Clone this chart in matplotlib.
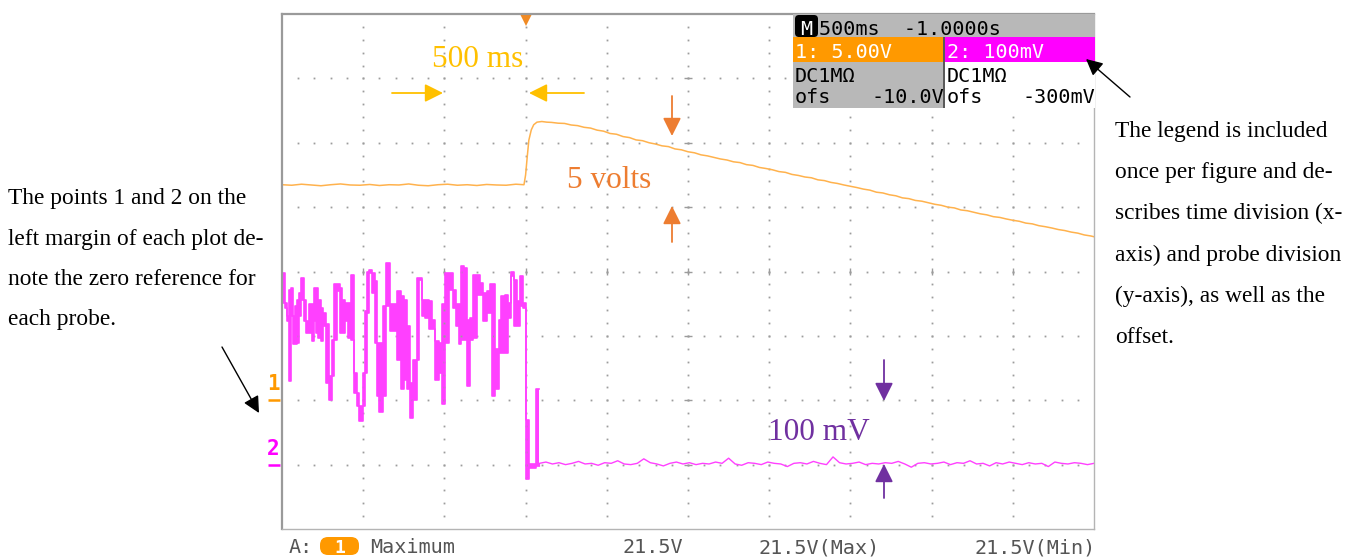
import numpy as np
import matplotlib
matplotlib.use("Agg")
import matplotlib.pyplot as plt
from matplotlib.patches import Rectangle, FancyBboxPatch, FancyArrowPatch
from matplotlib.transforms import IdentityTransform

# scope settings
time_per_div = 0.5          # s / div
ch1_volts_per_div = 5.0     # V / div
ch1_offset = -10.0          # V
ch2_mv_per_div = 100.0      # mV / div
ch2_offset = -300.0         # mV

# channel 1 (orange): flat, step up at the trigger, then slow decay
ch1_flat_t = [0.00, 0.06, 0.12, 0.18, 0.24, 0.30, 0.36, 0.42, 0.48, 0.54, 0.60, 0.66, 0.72,
              0.78, 0.84, 0.90, 0.96, 1.02, 1.08, 1.14, 1.20, 1.26, 1.32, 1.38, 1.44, 1.49]
ch1_flat_v = [16.74, 16.70, 16.78, 16.72, 16.66, 16.74, 16.80, 16.72, 16.70, 16.76, 16.68, 16.74, 16.72,
              16.80, 16.70, 16.66, 16.74, 16.78, 16.70, 16.74, 16.68, 16.76, 16.72, 16.70, 16.78, 16.74]
ch1_rise_t = [1.50, 1.51, 1.52, 1.535, 1.55, 1.57, 1.60, 1.63]
ch1_rise_v = [17.5, 18.9, 20.2, 21.0, 21.4, 21.6, 21.65, 21.6]
ch1_decay_v = [21.58, 21.52, 21.50, 21.38, 21.33, 21.20, 21.14, 20.98, 20.90, 20.72,
               20.66, 20.48, 20.40, 20.22, 20.16, 20.00, 19.90, 19.76, 19.70, 19.52,
               19.45, 19.30, 19.22, 19.06, 18.98, 18.86, 18.74, 18.66, 18.52, 18.46,
               18.30, 18.24, 18.08, 18.00, 17.90, 17.76, 17.70, 17.54, 17.46, 17.34,
               17.28, 17.12, 17.06, 16.92, 16.84, 16.72, 16.62, 16.52, 16.40, 16.32,
               16.16, 16.10, 15.96, 15.88, 15.72, 15.66, 15.52, 15.46, 15.34, 15.22,
               15.14, 15.00, 14.94, 14.78, 14.72, 14.60, 14.48, 14.40, 14.26, 14.20,
               14.08, 13.98, 13.90, 13.76, 13.70, 13.56, 13.48, 13.38, 13.26, 13.18,
               13.06, 12.98, 12.84, 12.76, 12.70]
ch1_decay_t = list(np.linspace(1.66, 4.98, 84)) + [5.0]

# channel 2 (magenta): peak-detect segments (min/max per segment, mV) up to just after trigger
ch2_edges = [0, 0.016, 0.029, 0.041, 0.053, 0.066, 0.078, 0.095, 0.107, 0.119,
             0.136, 0.148, 0.168, 0.183, 0.197, 0.209, 0.224, 0.238, 0.255, 0.271,
             0.292, 0.310, 0.322, 0.341, 0.357, 0.370, 0.390, 0.407, 0.423, 0.444,
             0.460, 0.476, 0.497, 0.513, 0.526, 0.538, 0.554, 0.571, 0.587, 0.600,
             0.624, 0.641, 0.665, 0.686, 0.706, 0.731, 0.751, 0.772, 0.788, 0.809,
             0.829, 0.846, 0.862, 0.879, 0.903, 0.924, 0.944, 0.969, 0.986, 1.006,
             1.027, 1.051, 1.072, 1.088, 1.105, 1.121, 1.137, 1.158, 1.178, 1.199,
             1.220, 1.240, 1.261, 1.281, 1.293, 1.314, 1.335, 1.351, 1.371, 1.392,
             1.413, 1.429, 1.445, 1.466, 1.482, 1.503, 1.523, 1.564, 1.585]
ch2_hi = [298, 251, 231, 272, 275, 231, 246, 256, 267, 290,
          256, 223, 249, 249, 275, 275, 256, 244, 236, 218,
          138, 194, 280, 280, 275, 256, 251, 251, 295, 143,
          112, 91, 143, 238, 300, 303, 298, 285, 189, 189,
          246, 313, 249, 249, 269, 262, 256, 215, 127, 163,
          290, 290, 256, 256, 254, 225, 192, 189, 249, 298,
          298, 272, 249, 249, 308, 305, 225, 228, 295, 295,
          282, 267, 269, 280, 280, 179, 225, 262, 264, 251,
          300, 287, 254, 293, 251, 70, 1, 117]
ch2_lo = [251, 244, 223, 130, 231, 187, 187, 189, 231, 256,
          223, 205, 205, 192, 223, 205, 197, 192, 215, 127,
          101, 138, 194, 269, 205, 205, 223, 197, 194, 112,
          91, 68, 91, 143, 236, 298, 267, 189, 107, 81,
          107, 246, 207, 207, 163, 117, 132, 117, 73, 101,
          163, 287, 231, 228, 210, 210, 132, 143, 94, 189,
          272, 244, 215, 187, 194, 194, 122, 194, 197, 264,
          264, 223, 236, 236, 107, 117, 174, 174, 174, 228,
          293, 215, 215, 246, 244, -23, -5, -2]
# channel 2 after the trigger: quiet baseline
ch2_tail_mv = [2, 4, 1, 3, 0, 2, 5, 1, 2, -1, 3, 2, 6, 1, 0, 2, 9, 3, 1, -2,
               2, 4, 1, 3, 0, 2, 1, 4, 2, 10, 1, -1, 3, 2, 0, 4, 2, 1, -3, 2,
               3, 1, 5, 2, 0, 12, 3, 1, 2, 4, 0, 2, 1, 3, 2, 5, 1, -4, 2, 3,
               1, 2, 4, 0, 3, 2, 6, 1, 2, -2, 3, 1, 4, 2, 0, 3, 1, 2, -3, 4,
               2, 1, 3, 2, 0, 2]
ch2_tail_t = np.linspace(1.585, 5.0, len(ch2_tail_mv))

W, H = 1362, 557
ORANGE_TRACE = '#FFB24D'
MAGENTA = '#FF40FF'
GRID = '#9c9c9c'
SCOPE_TXT = '#555555'
MONO = 'DejaVu Sans Mono'
SERIF = 'Liberation Serif'


def P(x, y):
    return (x / W, 1 - y / H)


fig = plt.figure(figsize=(W / 100, H / 100), dpi=100)
ax = fig.add_axes([282 / W, 1 - 529 / H, (1094 - 282) / W, (529 - 14) / H])
ax.set_xlim(0, 10 * time_per_div)
ax.set_ylim(-4, 4)
ax.set_xticks([])
ax.set_yticks([])
for side in ['left', 'top']:
    ax.spines[side].set_color('#9a9a9a')
    ax.spines[side].set_linewidth(1.6)
for side in ['right', 'bottom']:
    ax.spines[side].set_color('#b4b4b4')
    ax.spines[side].set_linewidth(1.0)

# dotted graticule
xdiv = np.arange(1, 10) * time_per_div
ydiv = np.arange(-3, 4)
gx, gy = np.meshgrid(xdiv, np.arange(-19, 20) * 0.2)
ax.plot(gx.ravel(), gy.ravel(), ls='none', marker='s', ms=1.3, mew=0, color=GRID)
hx, hy = np.meshgrid(np.arange(1, 50) * time_per_div * 0.2, ydiv)
ax.plot(hx.ravel(), hy.ravel(), ls='none', marker='s', ms=1.3, mew=0, color=GRID)
xc = 5 * time_per_div
ax.hlines(ydiv, xc - 0.024, xc + 0.024, color=GRID, lw=1.0)
ax.vlines(xdiv, -0.05, 0.05, color=GRID, lw=1.0)

# channel 1 trace
ch1_t = ch1_flat_t + ch1_rise_t + ch1_decay_t
ch1_v = np.array(ch1_flat_v + ch1_rise_v + ch1_decay_v)
ax.plot(ch1_t, (ch1_v + ch1_offset) / ch1_volts_per_div, color=ORANGE_TRACE, lw=1.1)

# channel 2 trace
to_div = lambda mv: (np.asarray(mv, dtype=float) + ch2_offset) / ch2_mv_per_div
hi_ext = to_div(ch2_hi + [ch2_hi[-1]])
lo_ext = to_div(ch2_lo + [ch2_lo[-1]])
ax.fill_between(ch2_edges, lo_ext, hi_ext, step='post', color=MAGENTA, lw=0)
ax.step(ch2_edges, hi_ext, where='post', color=MAGENTA, lw=1.2)
ax.step(ch2_edges, lo_ext, where='post', color=MAGENTA, lw=1.2)
ax.plot(np.r_[ch2_edges[-1], ch2_tail_t], to_div([ch2_lo[-1]] + ch2_tail_mv), color=MAGENTA, lw=1.0)

# trigger position marker at top
ax.plot(3 * time_per_div, 3.91, marker='v', ms=8, color='#F08A24', mew=0, clip_on=False)

# zero-reference markers on the left margin
s_per_px = 10 * time_per_div / (1094 - 282)
for zero, label, col in [(ch1_offset / ch1_volts_per_div, '1', '#FF9900'),
                         (ch2_offset / ch2_mv_per_div, '2', '#FF00FF')]:
    ax.plot([-14 * s_per_px, -2 * s_per_px], [zero, zero], color=col, lw=1.8,
            solid_capstyle='butt', clip_on=False)
    ax.annotate(label, xy=(0, zero), xytext=(-9, 6), textcoords='offset pixels',
                ha='center', va='bottom', color=col, fontsize=15, fontweight='bold',
                family=MONO, annotation_clip=False)

# legend box (top right)
idt = IdentityTransform()


def box(x0, y0, x1, y1, color, rounded=0):
    if rounded:
        p = FancyBboxPatch((x0, H - y1), x1 - x0, y1 - y0,
                           boxstyle=f'round,pad=0,rounding_size={rounded}',
                           fc=color, ec='none', transform=idt)
    else:
        p = Rectangle((x0, H - y1), x1 - x0, y1 - y0, fc=color, ec='none', transform=idt)
    fig.add_artist(p)


box(793, 14, 1095, 37, '#B8B8B8')
box(793, 37, 944, 62, '#FF9900')
box(945, 37, 1095, 62, '#FF00FF')
box(793, 62, 944, 108, '#B8B8B8')
box(945, 62, 1095, 108, 'white')
box(943, 37, 945, 108, '#5a5a5a')
box(795, 15, 818, 37, 'black', rounded=4)

fs_mono = 14.5
fig.text(*P(806.5, 35), 'M', color='white', family=MONO, fontsize=fs_mono, ha='center', va='baseline')
fig.text(*P(819, 35), '500ms  -1.0000s', color='black', family=MONO, fontsize=fs_mono, va='baseline')
fig.text(*P(795, 58), '1: 5.00V', color='white', family=MONO, fontsize=fs_mono, va='baseline')
fig.text(*P(947, 58), '2: 100mV', color='white', family=MONO, fontsize=fs_mono, va='baseline')
fig.text(*P(795, 82), 'DC1M\u03a9', color='black', family=MONO, fontsize=fs_mono, va='baseline')
fig.text(*P(947, 82), 'DC1M\u03a9', color='black', family=MONO, fontsize=fs_mono, va='baseline')
fig.text(*P(795, 103), 'ofs', color='black', family=MONO, fontsize=fs_mono, va='baseline')
fig.text(*P(944, 103), '-10.0V', color='black', family=MONO, fontsize=fs_mono, va='baseline', ha='right')
fig.text(*P(947, 103), 'ofs', color='black', family=MONO, fontsize=fs_mono, va='baseline')
fig.text(*P(1095, 103), '-300mV', color='black', family=MONO, fontsize=fs_mono, va='baseline', ha='right')

# measurement line under the screen
fig.text(*P(289, 553), 'A:', color=SCOPE_TXT, family=MONO, fontsize=fs_mono, va='baseline')
box(320, 537, 359, 555, '#FF9900', rounded=8)
fig.text(*P(339.5, 553), '1', color='white', family=MONO, fontsize=13, fontweight='bold',
         va='baseline', ha='center')
fig.text(*P(370, 553), 'Maximum', color=SCOPE_TXT, family=MONO, fontsize=fs_mono, va='baseline')
fig.text(*P(623, 553), '21.5V', color=SCOPE_TXT, family=MONO, fontsize=fs_mono, va='baseline')
fig.text(*P(759, 553), '21.5V(Max)', color=SCOPE_TXT, family=MONO, fontsize=fs_mono, va='baseline')
fig.text(*P(1096, 553), '21.5V(Min)', color=SCOPE_TXT, family=MONO, fontsize=fs_mono,
         va='baseline', ha='right')


# annotations
def arrow(p0, p1, color, ms=11, lw=1.3):
    a = FancyArrowPatch(P(*p0), P(*p1), transform=fig.transFigure,
                        arrowstyle='-|>,head_length=1.0,head_width=0.5', mutation_scale=ms,
                        color=color, lw=lw, shrinkA=0, shrinkB=0)
    fig.add_artist(a)


YEL, ORG, PUR = '#FFC000', '#ED7D31', '#7030A0'
fig.text(*P(432, 67), '500 ms', color=YEL, family=SERIF, fontsize=22.5, va='baseline')
arrow((392, 93), (443, 93), YEL)
arrow((584, 93), (529, 93), YEL)
fig.text(*P(567, 188), '5 volts', color=ORG, family=SERIF, fontsize=22.5, va='baseline')
arrow((672, 96), (672, 136), ORG)
arrow((672, 242), (672, 206), ORG)
fig.text(*P(768, 440), '100 mV', color=PUR, family=SERIF, fontsize=22.5, va='baseline')
arrow((884, 360), (884, 401), PUR)
arrow((884, 498), (884, 464), PUR)
arrow((1130, 97), (1086, 59), 'black', ms=10, lw=1.0)
arrow((222, 347), (259, 413), 'black', ms=10, lw=1.0)

left_lines = ['The points 1 and 2 on the', 'left margin of each plot de-',
              'note the zero reference for', 'each probe.']
for i, line in enumerate(left_lines):
    fig.text(*P(8, 204 + 40.5 * i), line, family=SERIF, fontsize=16.8, va='baseline', color='black')
right_lines = ['The legend is included', 'once per figure and de-', 'scribes time division (x-',
               'axis) and probe division', '(y-axis), as well as the', 'offset.']
for i, line in enumerate(right_lines):
    fig.text(*P(1115, 137 + 41.2 * i), line, family=SERIF, fontsize=16.8, va='baseline', color='black')

fig.savefig('out.png', dpi=100)
